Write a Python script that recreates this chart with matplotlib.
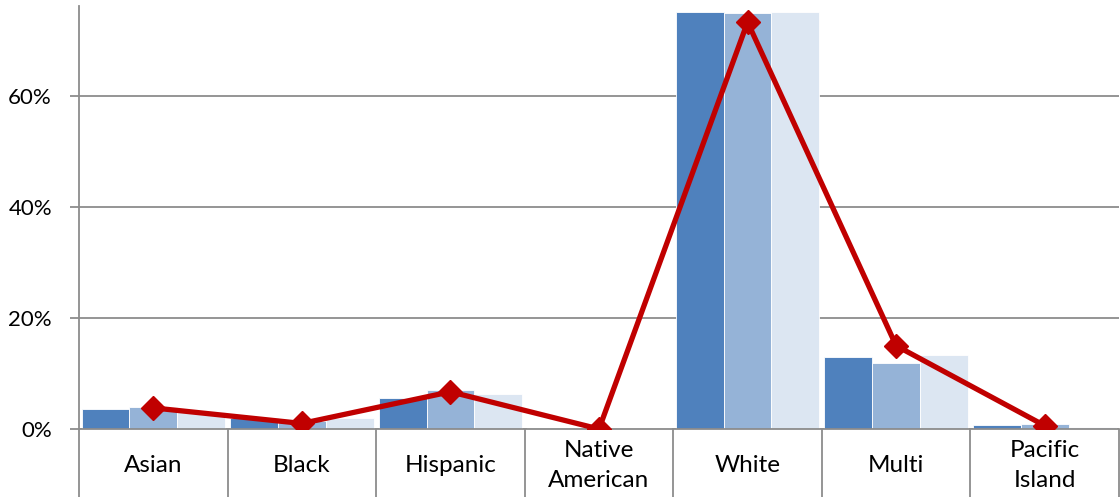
import matplotlib.pyplot as plt
import numpy as np

# categories and values (percent)
categories = ['Asian', 'Black', 'Hispanic', 'Native\nAmerican', 'White', 'Multi', 'Pacific\nIsland']
series_a = [3.6, 2.0, 5.6, 0.2, 75.1, 12.9, 0.7]
series_b = [4.0, 1.5, 7.0, 0.2, 74.9, 11.8, 0.9]
series_c = [3.0, 2.0, 6.3, 0.2, 75.1, 13.3, 0.4]
line_vals = [3.8, 1.0, 6.7, 0.0, 73.3, 15.0, 0.6]
yticks = [0, 20, 40, 60]

plt.rcParams['font.family'] = ['Lato', 'DejaVu Sans']

fig = plt.figure(figsize=(11.2, 4.97), dpi=100)
ax = fig.add_axes([79 / 1120, 68 / 497, 1040 / 1120, 423 / 497])

x = np.arange(len(categories))
w = 0.322
cols = ['#4F81BD', '#95B3D7', '#DCE6F2']
for i, (vals, c) in enumerate(zip([series_a, series_b, series_c], cols)):
    ax.bar(x + (i - 1) * w, vals, width=w, color=c, edgecolor='white', linewidth=0.6, zorder=2)

ax.plot(x, line_vals, color='#C00000', lw=3.8, marker='D', ms=12, zorder=4)

ax.set_xlim(-0.5, len(categories) - 0.5)
ax.set_ylim(0, 76.2)

ax.set_yticks(yticks)
ax.set_yticklabels(['%d%%' % v for v in yticks], fontsize=16)
ax.yaxis.grid(True, color='#8C8C8C', lw=1.3, zorder=0)
ax.tick_params(axis='y', length=6.5, width=1.3, color='#8C8C8C', pad=13)

# category labels at centres, separator lines at boundaries
ax.set_xticks(x)
ax.set_xticklabels(categories, fontsize=17.5, linespacing=1.55)
ax.tick_params(axis='x', which='major', length=0, pad=26.5)
for lab in ax.get_xticklabels():
    lab.set_va('center')
ax.set_xticks(np.arange(len(categories) + 1) - 0.5, minor=True)
ax.tick_params(axis='x', which='minor', length=50, width=1.3, color='#8C8C8C')

for s in ['top', 'right']:
    ax.spines[s].set_visible(False)
for s in ['left', 'bottom']:
    ax.spines[s].set_color('#8C8C8C')
    ax.spines[s].set_linewidth(1.3)
ax.set_axisbelow(True)

fig.savefig('out.png', dpi=100)
